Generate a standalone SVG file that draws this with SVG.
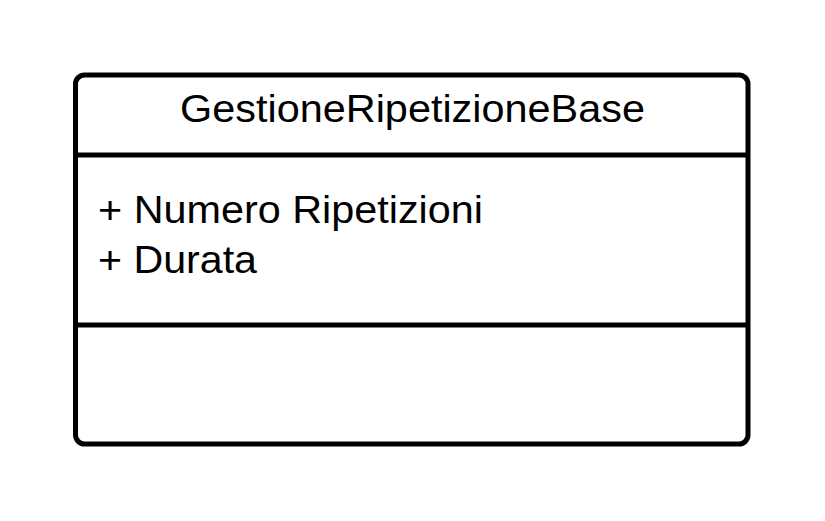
<svg xmlns="http://www.w3.org/2000/svg" width="825" height="521" viewBox="0 0 825 521">
<style>
.box{fill:#fff;stroke:#000;stroke-width:5}
.ln{stroke:#000;stroke-width:5}
.t{font-family:"Liberation Sans",Arial,sans-serif;font-size:38px;fill:#000}
</style>
<rect width="825" height="521" fill="#fff"/>
<g id="GestioneRipetizioneBase">
<rect class="box" x="75.5" y="75" width="672.5" height="369" rx="9"/>
<line class="ln" x1="75.5" y1="155" x2="748" y2="155"/>
<line class="ln" x1="75.5" y1="325" x2="748" y2="325"/>
<text class="t" x="180" y="122" textLength="465" lengthAdjust="spacingAndGlyphs">GestioneRipetizioneBase</text>
<text class="t" x="98" y="223" textLength="385" lengthAdjust="spacingAndGlyphs">+ Numero Ripetizioni</text>
<text class="t" x="98" y="273" textLength="159" lengthAdjust="spacingAndGlyphs">+ Durata</text>
</g>
<g id="connectors"/>
</svg>
